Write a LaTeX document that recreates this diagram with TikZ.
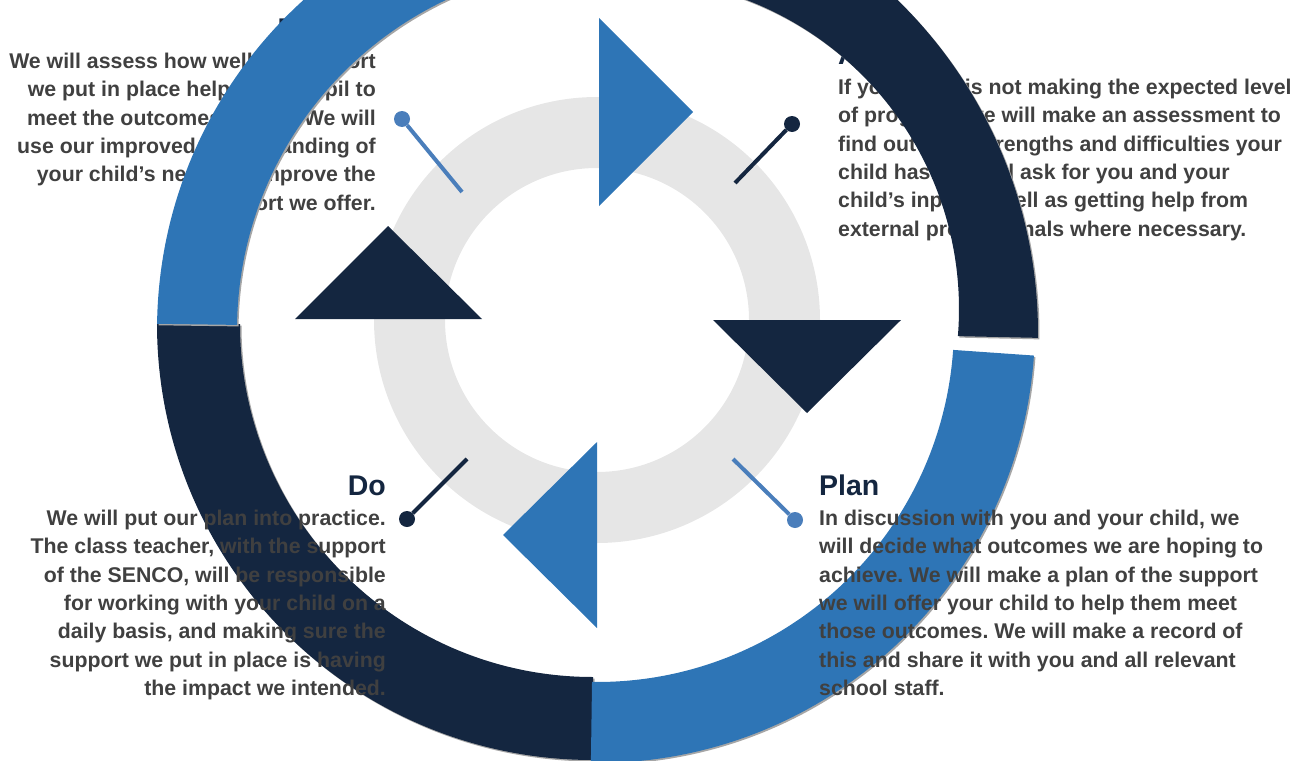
\documentclass[tikz,border=0pt]{standalone}
\usepackage{fontspec}
\setmainfont{Liberation Sans}
\usetikzlibrary{positioning}
\definecolor{navy}{HTML}{142640}
\definecolor{ringblue}{HTML}{2E75B6}
\definecolor{pinblue}{HTML}{4A7EBB}
\definecolor{ringgray}{HTML}{E6E6E6}
\definecolor{bodygray}{HTML}{404040}
\tikzset{
  head/.style={font=\fontsize{28.5}{34}\selectfont\bfseries, text=navy, inner sep=0pt},
  body/.style={font=\fontsize{21.3}{28.3}\selectfont\bfseries, text=bodygray, inner sep=0pt},
  knob/.style={circle, fill=#1, minimum size=16pt, inner sep=0pt},
  stalk/.style={draw=#1, line width=4pt},
  seg/.style={fill=#1, preaction={fill=black!35, transform canvas={xshift=1.5pt, yshift=-1.5pt}}},
}
\frenchspacing
\begin{document}
\begin{tikzpicture}[x=1pt,y=-1pt]
  \useasboundingbox (0,0) rectangle (1295,760);
  \clip (0,0) rectangle (1295,760);

  % inner grey ring
  \fill[ringgray, even odd rule] (597,320) circle[radius=223] (597,320) circle[radius=152];

  % lower quarters (under the texts)
  \path[seg=navy] (593,324) ++(90:436) arc[start angle=90, end angle=180, radius=436]
    -- ([shift={(180:353)}]593,324) arc[start angle=180, end angle=90, radius=353] -- cycle;
  \path[seg=ringblue] (597,325) ++(4:438) arc[start angle=4, end angle=90.8, radius=438]
    -- ([shift={(90.8:357)}]597,325) arc[start angle=90.8, end angle=4, radius=357] -- cycle;

  % texts
  \node[head, anchor=base east] (revhead) at (376,38) {Review};
  \node[body, align=right, below left=15pt and 0pt of revhead.base east] (revtext)
    {We will assess how well the support\\
     we put in place helped the pupil to\\
     meet the outcomes we set. We will\\
     use our improved understanding of\\
     your child’s needs to improve the\\
     support we offer.};

  \node[head, anchor=base west] (asshead) at (838,64) {Assess};
  \node[body, align=left, below right=15pt and 0pt of asshead.base west] (asstext)
    {If your child is not making the expected level\\
     of progress, we will make an assessment to\\
     find out what strengths and difficulties your\\
     child has. We will ask for you and your\\
     child’s input as well as getting help from\\
     external professionals where necessary.};

  \node[head, anchor=base east] (dohead) at (386,495) {Do};
  \node[body, align=right, below left=15pt and 0pt of dohead.base east] (dotext)
    {We will put our plan into practice.\\
     The class teacher, with the support\\
     of the SENCO, will be responsible\\
     for working with your child on a\\
     daily basis, and making sure the\\
     support we put in place is having\\
     the impact we intended.};

  \node[head, anchor=base west] (planhead) at (819,495) {Plan};
  \node[body, align=left, below right=15pt and 0pt of planhead.base west] (plantext)
    {In discussion with you and your child, we\\
     will decide what outcomes we are hoping to\\
     achieve. We will make a plan of the support\\
     we will offer your child to help them meet\\
     those outcomes. We will make a record of\\
     this and share it with you and all relevant\\
     school staff.};

  % upper quarters (over the texts)
  \path[seg=ringblue] (602,330) ++(180.8:445) arc[start angle=180.8, end angle=270, radius=445]
    -- ([shift={(270:365)}]602,330) arc[start angle=270, end angle=180.8, radius=365] -- cycle;
  \path[seg=navy] (573,333) ++(0.6:465) arc[start angle=0.6, end angle=-90, radius=465]
    -- ([shift={(-90:331)}]628,309) arc[start angle=-90, end angle=4.7, radius=331] -- cycle;

  % arrow heads
  \fill[ringblue] (599,18) -- (693,112) -- (599,206) -- cycle;
  \fill[navy] (713,320) -- (901,320) -- (807,413) -- cycle;
  \fill[ringblue] (597,442) -- (597,628) -- (503,535) -- cycle;
  \fill[navy] (295,319) -- (482,319) -- (388,226) -- cycle;

  % pins
  \node[knob=pinblue] (revknob) at (402,119) {};
  \coordinate (revend) at (462,192);
  \draw[stalk=pinblue] (revknob) -- (revend);

  \node[knob=navy] (assknob) at (792,124) {};
  \coordinate (assend) at (735,183);
  \draw[stalk=navy] (assknob) -- (assend);

  \node[knob=navy] (doknob) at (407,519) {};
  \coordinate (doend) at (467,459);
  \draw[stalk=navy] (doknob) -- (doend);

  \node[knob=pinblue] (planknob) at (795,520) {};
  \coordinate (planend) at (733,459);
  \draw[stalk=pinblue] (planknob) -- (planend);
\end{tikzpicture}
\end{document}
